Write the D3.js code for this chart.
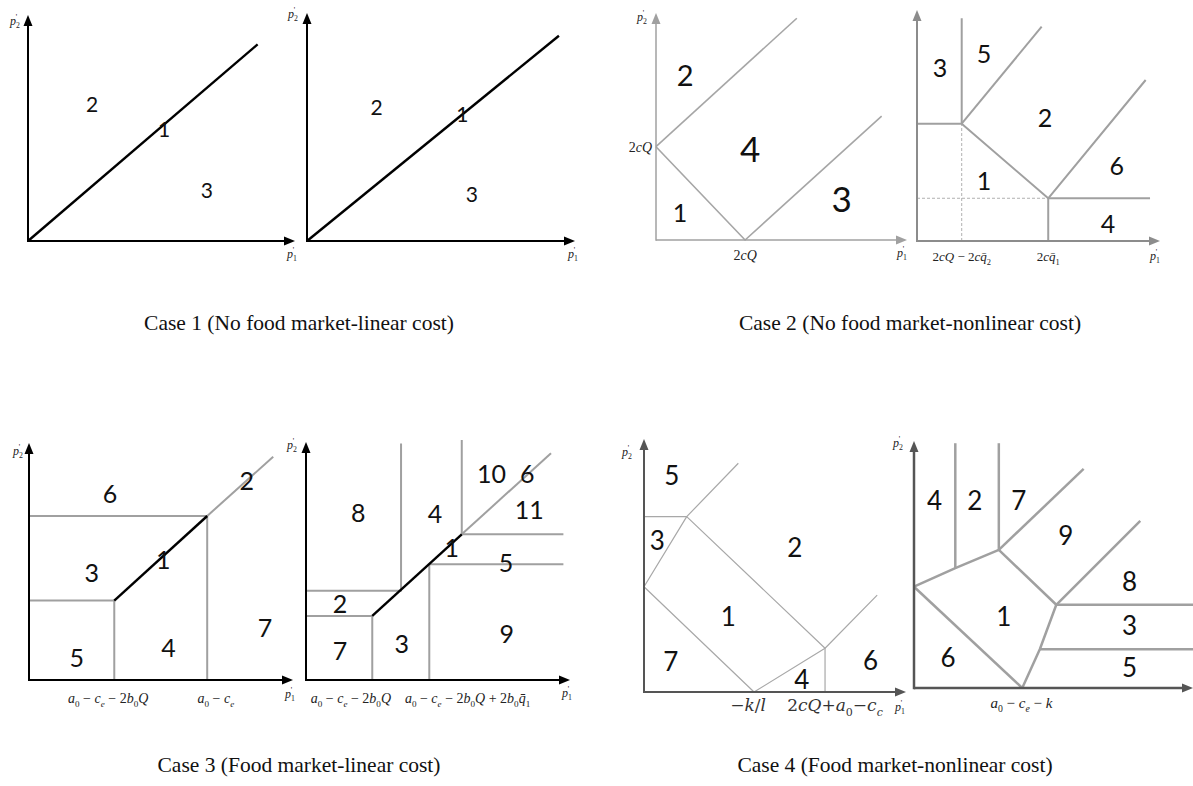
<!DOCTYPE html>
<html><head><meta charset="utf-8">
<script src="https://cdn.jsdelivr.net/npm/d3@7"></script>
<style>body{margin:0;background:#fff}</style></head>
<body>
<svg id="c" width="1193" height="786"></svg>
<script>
// ---------------- DATA (region-diagram coordinates, axis units 0..100) ----------------
// Case 1 left
const c1aBlack = [[[0,0],[86,87]]];
const c1aRegions = [['2',24,61],['1',51,50],['3',67,23]];
// Case 1 right
const c1bBlack = [[[0,0],[94,90]]];
const c1bRegions = [['2',26,59],['1',58,56],['3',61.5,21]];
// Case 2 left
const c2aGray = [[[0,41.1],[56.1,97.7]], [[0,41.1],[35.5,0],[89.9,54.6]]];
const c2aRegions = [['2',11.6,72.7],['4',37.5,40.5],['1',9.6,12.3],['3',74,18.5]];
const c2aXTicks = [[35.5,'2cQ',35.5]];
const c2aYTicks = [[41.1,'2cQ']];
// Case 2 right
const c2bGray = [[[0,50.8],[18.4,50.8],[18.4,96.4]], [[18.4,50.8],[51.3,92.8]],
                 [[18.4,50.8],[54,18.5],[94.1,69.7]], [[54,18.5],[95.9,18.5]], [[54,18.5],[54,0]]];
const c2bDashed = [[[18.4,0],[18.4,50.8]], [[0,18.5],[54,18.5]]];
const c2bRegions = [['3',9.5,75.5],['5',27.6,81.4],['2',52.7,53.8],['1',27.6,26.4],['6',82.2,32.9],['4',78.6,7.8]];
const c2bXTicks = [[18.4,'2cQ − 2c~q_2',18.4],[54,'2c~q_1',54]];
// Case 3 left
const c3aGray = [[[0,69.2],[67.5,69.2],[67.5,0]], [[0,33.5],[32.3,33.5],[32.3,0]], [[67.5,69.2],[92.5,94.2]]];
const c3aBlack = [[[32.3,33.5],[67.5,69.2]]];
const c3aRegions = [['6',30.7,78.9],['2',82.5,84.4],['3',23.8,45.7],['1',50.9,51.1],['7',89.4,22.5],['4',52.8,14.1],['5',18.1,9.8]];
const c3aXTicks = [[32.3,'a_0 − c_e − 2b_0Q',30],[67.5,'a_0 − c_e',70.8]];
// Case 3 right
const c3bGray = [[[0,26.9],[25.1,26.9],[25.1,0]], [[0,37.5],[36,37.5],[36,99.4]],
                 [[46.7,0],[46.7,48.6],[97.5,48.6]], [[97.5,61.2],[59,61.2],[59,100.8]], [[59,61.2],[92.8,95.3]]];
const c3bBlack = [[[25.1,26.9],[59,61.2]]];
const c3bRegions = [['8',19.8,70.7],['4',48.9,70.3],['10',70.3,86.8],['6',83.8,86.8],['11',84.6,71.7],['1',55.2,56],
                    ['5',75.8,49.7],['2',12.9,32.2],['9',76,19.6],['3',36.3,15.4],['7',12.9,12.6]];
const c3bXTicks = [[25.1,'a_0 − c_e − 2b_0Q',17],[46.7,'a_0 − c_e − 2b_0Q + 2b_0~q_1',61.2]];
// Case 4 left
const c4aGray = [[[0,69.3],[16.3,69.3],[36,90.4]], [[16.3,69.3],[0,41.6],[42,0],[69.1,17.3],[89,38.3]],
                 [[16.3,69.3],[69.1,17.3],[69.1,0]]];
const c4aRegions = [['5',10.6,85.8],['3',5.1,60.1],['2',57.6,57.4],['1',32.2,30],['7',10.2,12.4],['4',60.2,5],['6',86.5,12.6]];
const c4aXTicks = [[42,'−k/l',39.7],[69.1,'2cQ+a_0−c_c',72.9]];
// Case 4 right
const c4bGray = [[[0,41],[14.8,48.5],[30.4,55.9]], [[14.8,48.5],[14.8,99.1]], [[30.4,55.9],[30.4,99.1]],
                 [[30.4,55.9],[60.8,88.7]], [[30.4,55.9],[51,33.7],[81.1,67.7]], [[51,33.7],[100,33.7]],
                 [[51,33.7],[45.1,15.7],[38.8,0]], [[45.1,15.7],[100,15.7]], [[0,41],[38.8,0]]];
const c4bRegions = [['4',7.4,76.2],['2',21.8,76.2],['7',37.6,76.2],['9',54.4,62.1],['8',77.3,43.2],['1',32.2,29.1],
                    ['3',77.3,25.6],['6',12.2,12.7],['5',77.3,8.7]];
const c4bXTicks = [[38.8,'a_0 − c_e − k',38.5]];

const captions = ['Case 1 (No food market-linear cost)','Case 2 (No food market-nonlinear cost)',
                  'Case 3 (Food market-linear cost)','Case 4 (Food market-nonlinear cost)'];

// ---------------- LAYOUT ----------------
const panels = [
 {ox:28, oy:241, xl:267, yl:226, ax:'#000', aw:2, black:c1aBlack, gray:[], dashed:[], regions:c1aRegions, num:21,
  yLab:[-13,10], xLab:[-3,17], xTicks:[], yTicks:[]},
 {ox:307, oy:241, xl:268, yl:228, ax:'#000', aw:2, black:c1bBlack, gray:[], dashed:[], regions:c1bRegions, num:21,
  yLab:[-14,5], xLab:[-2,17], xTicks:[], yTicks:[]},
 {ox:656, oy:240, xl:251, yl:227, ax:'#a0a0a0', aw:1.5, lc:'#a6a6a6', lw:1.6, black:[], gray:c2aGray, dashed:[], regions:c2aRegions,
  num:30, numSizes:{'2':29,'4':35,'1':25,'3':35}, yLab:[-14,8], xLab:[-5,17], xTicks:c2aXTicks, yTicks:c2aYTicks, tickSize:14, tickDy:20},
 {ox:917, oy:241, xl:243, yl:231, ax:'#8c8c8c', aw:2, lc:'#a0a0a0', lw:2, black:[], gray:c2bGray, dashed:c2bDashed, regions:c2bRegions,
  num:25, yLab:null, xLab:[-5,19], xTicks:c2bXTicks, yTicks:[], tickSize:13, tickDy:20},
 {ox:29, oy:680, xl:264, yl:237, ax:'#000', aw:2, lc:'#a0a0a0', lw:2, black:c3aBlack, gray:c3aGray, dashed:[], regions:c3aRegions,
  num:25, yLab:[-11,12], xLab:[-3,18], xTicks:c3aXTicks, yTicks:[], tickSize:14, tickDy:23},
 {ox:306, oy:680, xl:264, yl:238, ax:'#000', aw:2, lc:'#a0a0a0', lw:2, black:c3bBlack, gray:c3bGray, dashed:[], regions:c3bRegions,
  num:25, yLab:[-14,7], xLab:[-3,17], xTicks:c3bXTicks, yTicks:[], tickSize:14, tickDy:23},
 {ox:644, oy:692, xl:262, yl:253, ax:'#555', aw:2, lc:'#a8a8a8', lw:1.2, black:[], gray:c4aGray, dashed:[], regions:c4aRegions,
  num:26, yLab:[-17,17], xLab:[-6,19], xTicks:c4aXTicks, yTicks:[], tickSize:17, tickDy:19, tickFont:'DejaVu Serif'},
 {ox:914, oy:688, xl:279, yl:247, ax:'#555', aw:2.5, lc:'#a0a0a0', lw:2.5, black:[], gray:c4bGray, dashed:[], regions:c4bRegions,
  num:26, yLab:[-16,6], xLab:null, xTicks:c4bXTicks, yTicks:[], tickSize:15, tickDy:20}
];
const capPos = [[299,330],[910,330],[299,772],[895,772]];

// ---------------- DRAW ----------------
const svg = d3.select('#c');

function mathText(sel, str, x, y, size, anchor, family) {
  const t = sel.append('text').attr('x', x).attr('y', y)
    .attr('font-family', family || 'Liberation Serif').attr('font-size', size)
    .attr('text-anchor', anchor || 'middle').attr('fill', '#222').style('white-space', 'pre');
  let shift = 0, i = 0, prevSub = false;
  while (i < str.length) {
    let ch = str[i], mode = 'n';
    if (ch === '_' || ch === '^') { mode = ch; i++; ch = str[i]; }
    let bar = false;
    if (ch === '~') { bar = true; i++; ch = str[i]; }
    i++;
    const target = mode === '_' ? size * 0.28 : mode === '^' ? -size * 0.45 : 0;
    const sp = t.append('tspan').text(ch + (bar ? '\u0304' : ''));
    if (target !== shift) { sp.attr('dy', target - shift); shift = target; }
    if (mode !== 'n') sp.attr('font-size', size * 0.65);
    if (mode === '^' && prevSub) sp.attr('dx', -size * 0.35);
    if (/[a-zA-Z]/.test(ch)) sp.attr('font-style', 'italic');
    prevSub = mode === '_';
  }
  return t;
}

function arrow(g, x, y, dir, color, len, half) {
  const pts = dir === 'right'
    ? [[x, y], [x - len, y - half], [x - len, y + half]]
    : [[x, y], [x - half, y + len], [x + half, y + len]];
  g.append('path').attr('d', d3.line()(pts) + 'Z').attr('fill', color);
}

panels.forEach((p, idx) => {
  const g = svg.append('g');
  const x = d3.scaleLinear().domain([0, 100]).range([p.ox, p.ox + p.xl]);
  const y = d3.scaleLinear().domain([0, 100]).range([p.oy, p.oy - p.yl]);
  const line = d3.line().x(d => x(d[0])).y(d => y(d[1]));

  g.selectAll('path.dash').data(p.dashed).join('path').attr('class', 'dash')
    .attr('d', line).attr('fill', 'none').attr('stroke', '#b0b0b0').attr('stroke-width', 1)
    .attr('stroke-dasharray', '3,2');
  g.selectAll('path.gr').data(p.gray).join('path').attr('class', 'gr')
    .attr('d', line).attr('fill', 'none').attr('stroke', p.lc).attr('stroke-width', p.lw)
    .attr('stroke-linejoin', 'round');
  g.selectAll('path.bk').data(p.black).join('path').attr('class', 'bk')
    .attr('d', line).attr('fill', 'none').attr('stroke', '#000').attr('stroke-width', 2.4);

  const xEnd = x(100), yEnd = y(100);
  g.append('line').attr('x1', p.ox).attr('y1', p.oy).attr('x2', xEnd - 6).attr('y2', p.oy)
    .attr('stroke', p.ax).attr('stroke-width', p.aw);
  g.append('line').attr('x1', p.ox).attr('y1', p.oy + p.aw / 2).attr('x2', p.ox).attr('y2', yEnd + 6)
    .attr('stroke', p.ax).attr('stroke-width', p.aw);
  arrow(g, xEnd, p.oy, 'right', p.ax, 11, 4.5);
  arrow(g, p.ox, yEnd, 'up', p.ax, 11, 4.5);

  if (p.yLab) mathText(g, 'p_2^\'', p.ox + p.yLab[0], yEnd + p.yLab[1], 12, 'middle');
  if (p.xLab) mathText(g, 'p_1^\'', xEnd + p.xLab[0], p.oy + p.xLab[1], 12, 'middle');

  p.xTicks.forEach(t => {
    const tt = mathText(g, t[1], x(t[2]), p.oy + p.tickDy, p.tickSize, 'middle', p.tickFont);
    if (p.tickFont) tt.attr('fill', '#333');
  });
  p.yTicks.forEach(t => mathText(g, t[1], p.ox - 4, y(t[0]) + 5, p.tickSize, 'end'));

  g.selectAll('text.reg').data(p.regions).join('text').attr('class', 'reg')
    .attr('x', d => x(d[1])).attr('y', d => y(d[2]))
    .attr('text-anchor', 'middle').attr('dominant-baseline', 'central')
    .attr('font-family', 'Lato, "Open Sans", sans-serif')
    .attr('font-size', d => (p.numSizes && p.numSizes[d[0]]) || p.num)
    .attr('fill', '#111').text(d => d[0]);
});

svg.selectAll('text.cap').data(captions).join('text').attr('class', 'cap')
  .attr('x', (d, i) => capPos[i][0]).attr('y', (d, i) => capPos[i][1])
  .attr('text-anchor', 'middle').attr('font-family', 'Liberation Serif').attr('font-size', 21.5)
  .attr('fill', '#111').text(d => d);
</script>
</body></html>
